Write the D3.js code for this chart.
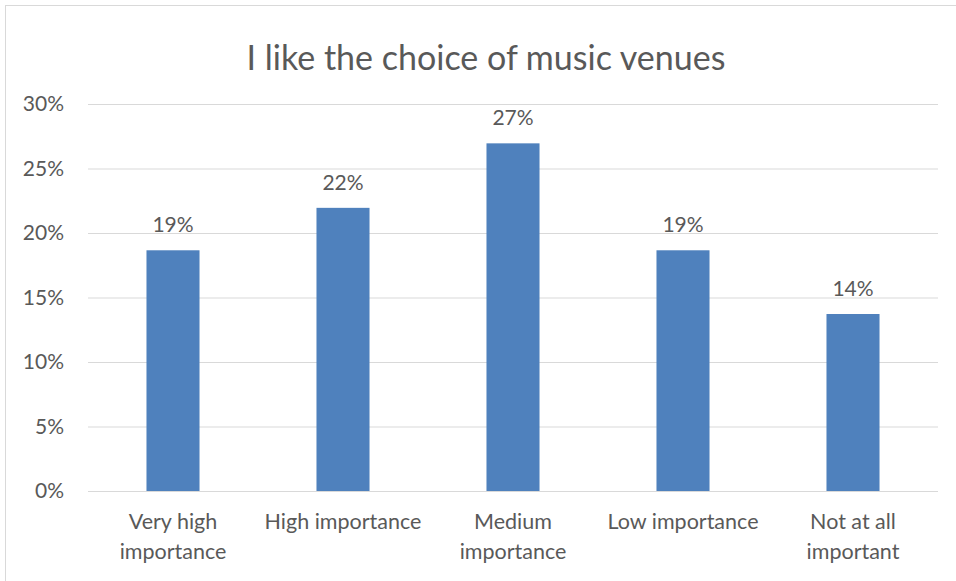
<!DOCTYPE html>
<html>
<head>
<meta charset="utf-8">
<script src="https://cdn.jsdelivr.net/npm/d3@7"></script>
<style>
  body { margin: 0; background: #fff; }
  text { font-family: Lato, "Open Sans", sans-serif; fill: #595959; }
</style>
</head>
<body>
<div id="chart"></div>
<script>
// chart data
var categories = ["Very high importance", "High importance", "Medium importance", "Low importance", "Not at all important"];
var values = [0.1866, 0.2195, 0.2695, 0.1866, 0.1372];
var yTicks = [0, 0.05, 0.10, 0.15, 0.20, 0.25, 0.30];
var title = "I like the choice of music venues";

var W = 956, H = 581;
var margin = {top: 104, right: 18, bottom: 90, left: 88};
var width = W - margin.left - margin.right;
var height = H - margin.top - margin.bottom;

var svg = d3.select("#chart").append("svg")
    .attr("width", W)
    .attr("height", H);

// outer frame
svg.append("rect")
    .attr("x", 5.5).attr("y", 5.5)
    .attr("width", W + 20).attr("height", H + 20)
    .attr("fill", "none")
    .attr("stroke", "#d9d9d9");

svg.append("text")
    .attr("x", 486).attr("y", 70)
    .attr("text-anchor", "middle")
    .style("font-size", "34px")
    .text(title);

var g = svg.append("g")
    .attr("transform", "translate(" + margin.left + "," + margin.top + ")");

var x = d3.scaleBand().domain(categories).range([0, width]).padding(0);
var y = d3.scaleLinear().domain([0, 0.30]).range([height, 0]);
var fmt = d3.format(".0%");

// gridlines + y labels
var yAxis = d3.axisLeft(y).tickValues(yTicks).tickFormat(fmt)
    .tickSize(-width).tickPadding(24);
var ya = g.append("g").call(yAxis);
ya.select(".domain").remove();
ya.selectAll(".tick line").attr("stroke", "#d9d9d9").attr("stroke-width", 1);
ya.selectAll(".tick text").style("font-size", "21px").attr("fill", "#595959")
    .style("font-family", "Lato, sans-serif");

var barW = x.bandwidth() * 0.312;

g.selectAll(".bar").data(values).enter().append("rect")
    .attr("class", "bar")
    .attr("x", function(d, i) { return x(categories[i]) + x.bandwidth() / 2 - barW / 2; })
    .attr("y", function(d) { return y(d); })
    .attr("width", barW)
    .attr("height", function(d) { return height - y(d); })
    .attr("fill", "#4f81bd");

g.selectAll(".lbl").data(values).enter().append("text")
    .attr("class", "lbl")
    .attr("x", function(d, i) { return x(categories[i]) + x.bandwidth() / 2; })
    .attr("y", function(d) { return y(d) - 18; })
    .attr("text-anchor", "middle")
    .style("font-size", "21px")
    .text(function(d) { return fmt(d); });

// category labels, wrapped to the band width
var xa = g.append("g").attr("transform", "translate(0," + height + ")");
categories.forEach(function(c) {
    var cx = x(c) + x.bandwidth() / 2;
    var t = xa.append("text")
        .attr("x", cx)
        .attr("y", 38)
        .attr("text-anchor", "middle")
        .style("font-size", "21.5px");
    var words = c.split(" "), line = [];
    var ts = t.append("tspan").attr("x", cx).attr("dy", 0);
    words.forEach(function(w) {
        line.push(w);
        ts.text(line.join(" "));
        if (ts.node().getComputedTextLength() > 166 && line.length > 1) {
            line.pop();
            ts.text(line.join(" "));
            line = [w];
            ts = t.append("tspan").attr("x", cx).attr("dy", 30).text(w);
        }
    });
});
</script>
</body>
</html>
